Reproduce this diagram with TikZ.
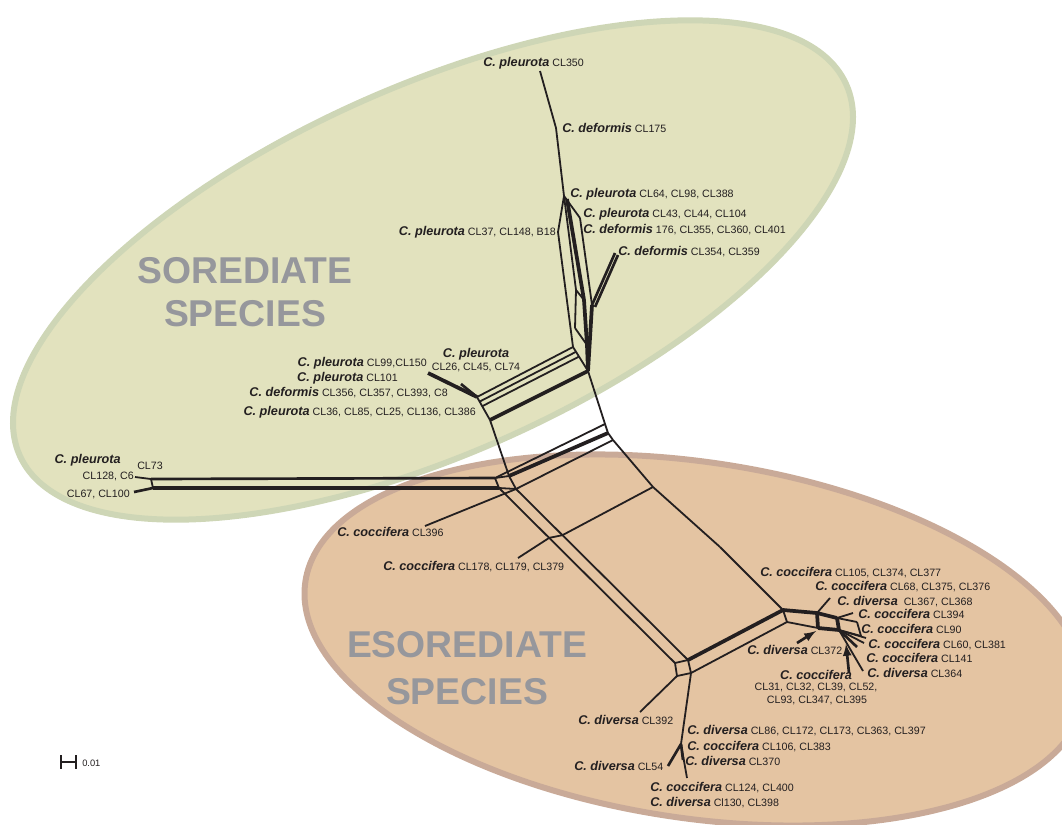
\documentclass[tikz,border=0pt]{standalone}
\usepackage{fontspec}
\setmainfont{Liberation Sans}
\usepackage{tikz}
\usetikzlibrary{arrows,calc}

\definecolor{ink}{RGB}{35,31,32}
\definecolor{sorfill}{RGB}{226,226,190}
\definecolor{sorline}{RGB}{206,214,182}
\definecolor{esofill}{RGB}{228,196,162}
\definecolor{esoline}{RGB}{201,170,152}
\definecolor{tagtext}{RGB}{150,151,156}

\newcommand{\taxon}[1]{{\fontsize{9.5}{11}\selectfont\bfseries\itshape #1}}

\begin{document}
\begin{tikzpicture}[x=0.75pt,y=-0.75pt,line join=round,
                    every text node part/.style={align=center}]
  \tikzstyle{taxlab}=[inner sep=0pt,text=ink,font=\fontsize{8}{9.5}\selectfont]
  \tikzstyle{grouptag}=[text=tagtext,font=\fontsize{28}{32}\selectfont\bfseries]
  \tikzstyle{netline}=[draw=ink,line width=1.35pt]
  \tikzstyle{netmid}=[draw=ink,line width=2pt]
  \tikzstyle{netheavy}=[draw=ink,line width=2.8pt]

  \useasboundingbox (0,0) rectangle (1062,824);
  \clip (0,0) rectangle (1062,824);

  % the two groups
  \begin{scope}[shift={(695,640)},rotate=-8.55]
    \draw[fill=esofill,draw=esoline,line width=4.5pt] (0,0) ellipse [x radius=394,y radius=178];
  \end{scope}
  \begin{scope}[shift={(433,270)},rotate=24.2]
    \draw[fill=sorfill,draw=sorline,line width=4.5pt] (0,0) ellipse [x radius=453,y radius=183];
  \end{scope}

  \node[grouptag] (sor) at (245,292) {SOREDIATE\\SPECIES};
  \node[grouptag,font=\fontsize{28}{35}\selectfont\bfseries] (eso) at (467,668) {ESOREDIATE\\SPECIES};

  % upper cluster
  \coordinate (t350) at (540,71);
  \coordinate (t175) at (556,128);
  \coordinate (a0) at (564,196);
  \coordinate (a1) at (567,199);
  \coordinate (t37) at (558,232);
  \coordinate (t43) at (580,218);
  \coordinate (t354) at (615,253);
  \coordinate (t354b) at (618,255);
  \coordinate (r1) at (592,305);
  \coordinate (r1b) at (595,307);
  \coordinate (m1) at (576,290);
  \coordinate (m2) at (575,328);
  \coordinate (k1) at (584,300);
  \coordinate (k2) at (587,345);
  \coordinate (lb) at (573,347);
  \coordinate (rb) at (588,371);

  \path[netline] (t350) edge (t175) (t175) edge (a0)
                 (a0) edge (t37) (a0) edge (t43)
                 (t37) edge (lb) (t43) edge (r1)
                 (a0) edge (m1) (m1) edge (m2)
                 (m1) edge (k1) (m2) edge (k2)
                 (lb) edge (rb);
  \path[netheavy] (a1) edge (k1) (k1) edge (k2) (k2) edge (rb)
                  (r1) edge (rb);
  \path[netmid] (t354) edge (r1) (t354b) edge (r1b);

  % lower left of the upper cluster
  \coordinate (c1) at (477,397);
  \coordinate (d0) at (490,420);
  \coordinate (lb2) at ($(lb)!.2!(rb)$);
  \coordinate (lb3) at ($(lb)!.4!(rb)$);
  \coordinate (c2) at ($(c1)!.2!(d0)$);
  \coordinate (c3) at ($(c1)!.4!(d0)$);
  \coordinate (t99) at (428,373);
  \coordinate (t101) at (461,384);

  \path[netline] (lb) edge (c1) (lb2) edge (c2) (lb3) edge (c3)
                 (c1) edge (d0);
  \path[netheavy] (rb) edge (d0) (c1) edge (t99);
  \path[netmid] (c1) edge (t101);

  % central splits
  \coordinate (p1) at (605,424);
  \coordinate (p2) at (608,433);
  \coordinate (p3) at (613,440);
  \coordinate (q0) at (653,487);
  \coordinate (q1) at (720,547);
  \coordinate (h1) at (495,478);
  \coordinate (h2) at (499,488);
  \coordinate (v1) at (509,476);
  \coordinate (v2) at (516,489);
  \coordinate (w1) at (151,479);
  \coordinate (w2) at (153,488);
  \coordinate (t128) at (135,477);
  \coordinate (t67) at (134,492);
  \coordinate (e1) at (783,610);
  \coordinate (e2) at (787,622);

  \path[netline] (rb) edge (p1) (p1) edge (p2) (p2) edge (p3)
                 (p3) edge (q0) (q0) edge (q1) (q1) edge (e1)
                 (d0) edge (v1) (v1) edge (v2)
                 (h1) edge (h2) (h1) edge (v1) (h2) edge (v2)
                 (p1) edge (h1) (p3) edge (v2)
                 (w1) edge (w2) (t128) edge (w1);
  \path[netheavy] (p2) edge (v1) (w2) edge (h2);
  \path[netmid] (w1) edge (h1) (t67) edge (w2);

  % lower box
  \coordinate (bl) at (675,663);
  \coordinate (br) at (688,660);
  \coordinate (bb) at (691,673);
  \coordinate (bc) at (677,676);
  \coordinate (x1) at ($(v2)!.27!(br)$);
  \coordinate (x2) at ($(h2)!.285!(bl)$);
  \coordinate (t178) at (518,558);
  \coordinate (t396) at (425,526);
  \coordinate (t392) at (640,712);
  \coordinate (z1) at (681,744);
  \coordinate (z3) at (683,760);
  \coordinate (z2) at (687,778);
  \coordinate (t54) at (668,766);

  \path[netline] (h2) edge (bl) (v2) edge (br)
                 (bl) edge (br) (br) edge (bb) (bb) edge (bc) (bc) edge (bl)
                 (q0) edge (x1) (x1) edge (x2) (x2) edge (t178)
                 (t396) edge (v2)
                 (bb) edge (e2) (bc) edge (t392)
                 (bb) edge (z1) (z1) edge (z2);
  \path[netheavy] (br) edge (e1);
  \path[netmid] (t54) edge (z1) (z1) edge (z3);

  % lower right cluster
  \coordinate (f1) at (817,613);
  \coordinate (f2) at (818,628);
  \coordinate (s1) at (837,618);
  \coordinate (s2) at (839,630);
  \coordinate (u1) at (857,622);
  \coordinate (u2) at (861,636);
  \coordinate (t367) at (830,598);
  \coordinate (t394) at (853,613);
  \coordinate (t60a) at (866,638);
  \coordinate (t60b) at (864,643);
  \coordinate (t141) at (857,647);
  \coordinate (t364) at (863,671);
  \coordinate (a372s) at (797,643);
  \coordinate (a372e) at (816,631);
  \coordinate (a31s) at (849,673);
  \coordinate (a31e) at (846,644);

  \path[netline] (e1) edge (e2) (e2) edge (f2) (t367) edge (f1)
                 (s1) edge (t394) (s1) edge (u1) (u1) edge (u2) (u2) edge (s2)
                 (s2) edge (t60a) (s2) edge (t60b) (s2) edge (t364);
  \path[netheavy] (e1) edge (f1) (f1) edge (f2) (f1) edge (s1)
                  (f2) edge (s2) (s1) edge (s2);
  \path[netmid] (s2) edge (t141);
  \draw[netmid,-latex] (a372s) -- (a372e);
  \draw[netmid,-latex] (a31s) -- (a31e);

  % taxa, upper group
  \node[taxlab,anchor=west] (l350) at (483,63) {\taxon{C. pleurota} CL350};
  \node[taxlab,anchor=west] (l175) at (562,128) {\taxon{C. deformis} CL175};
  \node[taxlab,anchor=west] (l64) at (570,194) {\taxon{C. pleurota} CL64, CL98, CL388};
  \node[taxlab,anchor=west] (l43) at (583,214) {\taxon{C. pleurota} CL43, CL44, CL104};
  \node[taxlab,anchor=west] (l176) at (583,230) {\taxon{C. deformis} 176, CL355, CL360, CL401};
  \node[taxlab,anchor=east] (l37) at (556,232) {\taxon{C. pleurota} CL37, CL148, B18};
  \node[taxlab,anchor=west] (l354) at (618,252) {\taxon{C. deformis} CL354, CL359};
  \node[taxlab] (l26) at (476,354) {\taxon{C. pleurota}};
  \node[taxlab] (l26b) at (476,367) {CL26, CL45, CL74};
  \node[taxlab,anchor=east] (l99) at (427,363) {\taxon{C. pleurota} CL99,CL150};
  \node[taxlab,anchor=east] (l101) at (398,378) {\taxon{C. pleurota} CL101};
  \node[taxlab,anchor=east] (l356) at (448,393) {\taxon{C. deformis} CL356, CL357, CL393, C8};
  \node[taxlab,anchor=east] (l36) at (476,412) {\taxon{C. pleurota} CL36, CL85, CL25, CL136, CL386};
  \node[taxlab,anchor=east] (lpl) at (121,460) {\taxon{C. pleurota}};
  \node[taxlab,anchor=west] (l73) at (137,466) {CL73};
  \node[taxlab,anchor=east] (l128) at (134,476) {CL128, C6};
  \node[taxlab,anchor=east] (l67) at (130,494) {CL67, CL100};

  % taxa, lower group
  \node[taxlab,anchor=west] (l396) at (337,532) {\taxon{C. coccifera} CL396};
  \node[taxlab,anchor=west] (l178) at (383,567) {\taxon{C. coccifera} CL178, CL179, CL379};
  \node[taxlab,anchor=west] (l105) at (760,573) {\taxon{C. coccifera} CL105, CL374, CL377};
  \node[taxlab,anchor=west] (l68) at (815,587) {\taxon{C. coccifera} CL68, CL375, CL376};
  \node[taxlab,anchor=west] (l367) at (837,602) {\taxon{C. diversa}\ \ CL367, CL368};
  \node[taxlab,anchor=west] (l394) at (858,614) {\taxon{C. coccifera} CL394};
  \node[taxlab,anchor=west] (l90) at (861,629) {\taxon{C. coccifera} CL90};
  \node[taxlab,anchor=west] (l60) at (868,645) {\taxon{C. coccifera} CL60, CL381};
  \node[taxlab,anchor=west] (l141) at (866,658) {\taxon{C. coccifera} CL141};
  \node[taxlab,anchor=west] (l364) at (867,673) {\taxon{C. diversa} CL364};
  \node[taxlab,anchor=west] (l372) at (747,650) {\taxon{C. diversa} CL372};
  \node[taxlab] (l31) at (816,675) {\taxon{C. coccifera}};
  \node[taxlab] (l31b) at (816,687) {CL31, CL32, CL39, CL52,};
  \node[taxlab] (l31c) at (817,700) {CL93, CL347, CL395};
  \node[taxlab,anchor=west] (l392) at (578,720) {\taxon{C. diversa} CL392};
  \node[taxlab,anchor=west] (l86) at (687,731) {\taxon{C. diversa} CL86, CL172, CL173, CL363, CL397};
  \node[taxlab,anchor=west] (l106) at (687,747) {\taxon{C. coccifera} CL106, CL383};
  \node[taxlab,anchor=west] (l370) at (685,761) {\taxon{C. diversa} CL370};
  \node[taxlab,anchor=west] (l54) at (574,766) {\taxon{C. diversa} CL54};
  \node[taxlab,anchor=west] (l124) at (650,788) {\taxon{C. coccifera} CL124, CL400};
  \node[taxlab,anchor=west] (l130) at (650,803) {\taxon{C. diversa} Cl130, CL398};

  % scale bar
  \coordinate (sb1) at (60,762);
  \coordinate (sb2) at (77,762);
  \draw[ink,line width=1.6pt,|-|] (sb1) -- (sb2);
  \node[taxlab,anchor=west,font=\fontsize{7}{8}\selectfont] (sbl) at (82,763) {0.01};
\end{tikzpicture}
\end{document}
